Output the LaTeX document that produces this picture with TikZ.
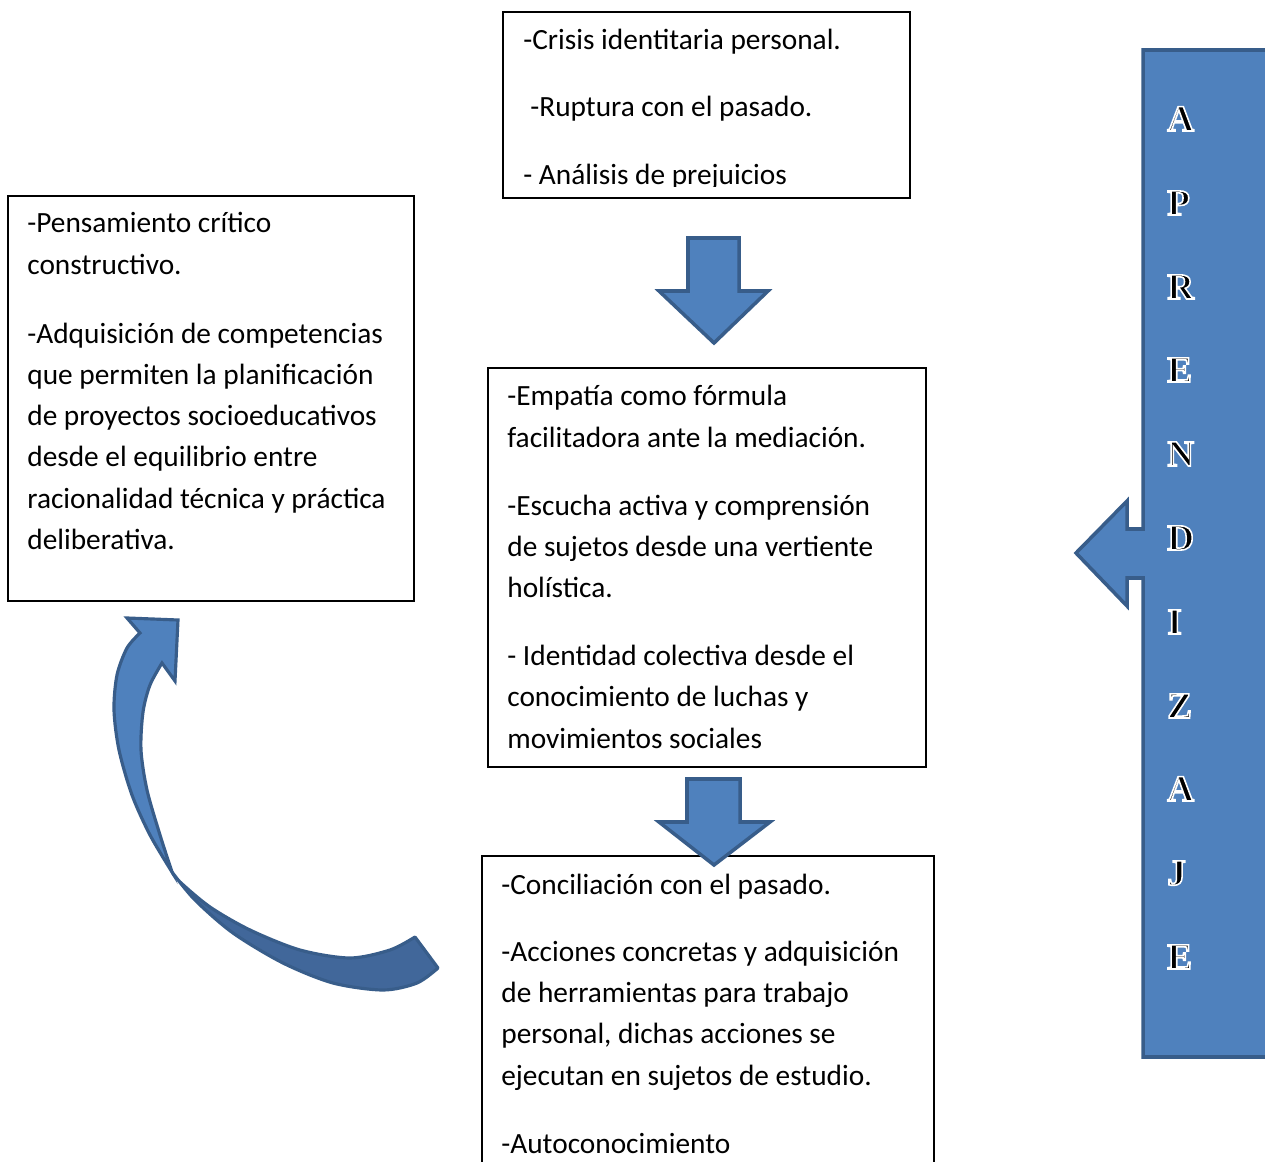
\documentclass[tikz,border=0pt]{standalone}
\usepackage{fontspec}
\setmainfont{Carlito}
\newfontfamily\letterfont{Liberation Serif}
\definecolor{bluefill}{HTML}{4F81BD}
\definecolor{blueline}{HTML}{385D8A}
\definecolor{bluedark}{HTML}{41679A}
\newcommand{\outl}[1]{\special{pdf:literal direct 2 Tr 1 1 1 RG 0.9 w}#1\special{pdf:literal direct 0 Tr 0 0 0 RG}}
\begin{document}
\begin{tikzpicture}[x=0.02cm,y=-0.02cm,
  txt/.style={anchor=base west,inner sep=0pt,font=\fontsize{16.7}{20}\selectfont},
  box/.style={draw=black,line width=1.1pt,fill=white},
  blockarrow/.style={fill=bluefill,draw=blueline,line width=2pt,line join=miter},
  letter/.style={anchor=base west,inner sep=0pt,font=\letterfont\bfseries\fontsize{21}{24}\selectfont}]
\useasboundingbox (0,0) rectangle (1265,1162);
\clip (0,0) rectangle (1265,1162);
\fill[white] (0,0) rectangle (1265,1162);

% right banner (left arrow callout)
\draw[blockarrow] (1143,50) -- (1280,50) -- (1280,1057) -- (1143,1057) -- (1143,578)
  -- (1127,578) -- (1127,606) -- (1076,553) -- (1127,501) -- (1127,529) -- (1143,529) -- cycle;
\foreach \l/\b [count=\i] in {A/131,P/215,R/299,E/382,N/466,D/550,I/634,Z/718,A/801,J/885,E/969}
  \node[letter] (let\i) at (1167,\b) {\outl{\l}};

% top box
\node[box,anchor=north west,minimum width=407*0.02cm,minimum height=186*0.02cm,inner sep=0pt] (top) at (502,11) {};
\begin{scope}
\clip (505,14) rectangle (906,187);
\node[txt] (t1) at (523,50) {-Crisis identitaria personal.};
\node[txt] (t2) at (530,117) {-Ruptura con el pasado.};
\node[txt] (t3) at (523,185) {- Análisis de prejuicios};
\end{scope}

% left box
\node[box,anchor=north west,minimum width=406*0.02cm,minimum height=405*0.02cm,inner sep=0pt] (left) at (7,195) {};
\node[txt] (l1) at (27,233) {-Pensamiento crítico};
\node[txt] (l2) at (27,275) {constructivo.};
\node[txt] (l3) at (27,343) {-Adquisición de competencias};
\node[txt] (l4) at (27,384) {que permiten la planificación};
\node[txt] (l5) at (27,425) {de proyectos socioeducativos};
\node[txt] (l6) at (27,466) {desde el equilibrio entre};
\node[txt] (l7) at (27,508) {racionalidad técnica y práctica};
\node[txt] (l8) at (27,549) {deliberativa.};

% middle box
\node[box,anchor=north west,minimum width=438*0.02cm,minimum height=399*0.02cm,inner sep=0pt] (mid) at (487,367) {};
\node[txt] (m1) at (507,405) {-Empatía como fórmula};
\node[txt] (m2) at (507,447) {facilitadora ante la mediación.};
\node[txt] (m3) at (507,515) {-Escucha activa y comprensión};
\node[txt] (m4) at (507,556) {de sujetos desde una vertiente};
\node[txt] (m5) at (507,597) {holística.};
\node[txt] (m6) at (507,665) {- Identidad colectiva desde el};
\node[txt] (m7) at (507,706) {conocimiento de luchas y};
\node[txt] (m8) at (507,748) {movimientos sociales};

% bottom box
\node[box,anchor=north west,minimum width=452*0.02cm,minimum height=340*0.02cm,inner sep=0pt] (bot) at (481,855) {};
\node[txt] (b1) at (501,894) {-Conciliación con el pasado.};
\node[txt] (b2) at (501,961) {-Acciones concretas y adquisición};
\node[txt] (b3) at (501,1002) {de herramientas para trabajo};
\node[txt] (b4) at (501,1043) {personal, dichas acciones se};
\node[txt] (b5) at (501,1085) {ejecutan en sujetos de estudio.};
\node[txt] (b6) at (501,1153) {-Autoconocimiento};

% down arrows
\draw[blockarrow] (688,238) -- (739,238) -- (739,291) -- (768,291) -- (714,343) -- (659,291) -- (688,291) -- cycle;
\draw[blockarrow] (687,779) -- (740,779) -- (740,822) -- (770,822) -- (714,865) -- (659,822) -- (687,822) -- cycle;

% curved arrow
\draw[fill=bluedark,draw=blueline,line width=1.8pt,line join=round]
  plot[smooth] coordinates {(172,872) (180,882) (210,907) (250,930) (300,950) (350,958) (390,950) (415,937)}
  -- (438,968)
  -- plot[smooth] coordinates {(438,968) (417,983) (383,990) (333,983) (283,963) (233,933) (195,900) (172,872)} -- cycle;
\draw[fill=bluefill,draw=blueline,line width=1.8pt,line join=miter]
  plot[smooth] coordinates {(172,872) (150,835) (132,795) (119,750) (114,710) (117,675) (127,648) (140,633)}
  -- (127,618) -- (178,620) -- (175,681) -- (162,663)
  -- plot[smooth] coordinates {(162,663) (150,685) (143,712) (141,750) (147,790) (160,835) (172,872)} -- cycle;
\end{tikzpicture}
\end{document}
